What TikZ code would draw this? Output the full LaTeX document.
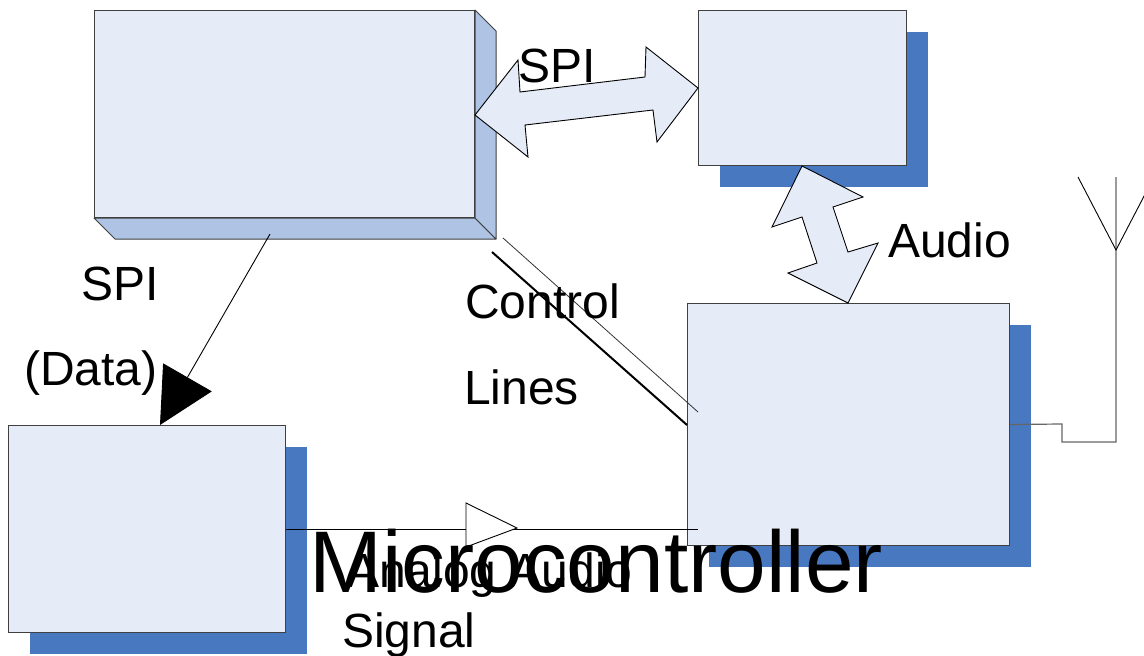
\documentclass[tikz,border=0pt]{standalone}
\usepackage{fontspec}
\setmainfont{Liberation Sans}
\usetikzlibrary{arrows.meta,shadows,calc}
\definecolor{facefill}{HTML}{E6ECF7}
\definecolor{sidefill}{HTML}{AFC4E4}
\definecolor{shadowblue}{HTML}{4878C0}
\tikzset{
  box/.style={draw=black!75, line width=1pt, fill=facefill, inner sep=0pt, anchor=north west},
  shadowbox/.style={box, general shadow={fill=shadowblue, shadow xshift=21pt, shadow yshift=-21pt}},
  sideface/.style={draw=black!75, line width=1pt, fill=sidefill, line join=round},
  blockarrow/.style={draw=black, line width=0.9pt, fill=facefill, line join=miter},
  wire/.style={draw=black, line width=0.9pt},
  graywire/.style={draw=black!60, line width=1.2pt},
  txt/.style={font=\fontsize{48}{56}\selectfont, inner sep=0pt, anchor=base west},
  bigtxt/.style={font=\fontsize{87.5}{100}\selectfont, inner sep=0pt, anchor=base west}
}
\begin{document}
\begin{tikzpicture}[x=1pt,y=-1pt]
\useasboundingbox (0,0) rectangle (1144,656);

% boxes
\node[box, minimum width=380pt, minimum height=207pt] (mcu) at (94,10) {};
\draw[sideface] (mcu.south west) -- ++(21,21) -- ($(mcu.south east)+(21,21)$) -- (mcu.south east) -- cycle;
\draw[sideface] (mcu.north east) -- ++(21,21) -- ($(mcu.south east)+(21,21)$) -- (mcu.south east) -- cycle;

\node[shadowbox, minimum width=208pt, minimum height=155pt] (codec) at (698,10) {};
\node[shadowbox, minimum width=322pt, minimum height=242pt] (radio) at (687,303) {};
\node[shadowbox, minimum width=277pt, minimum height=207pt] (dac) at (8,425) {};

% block arrows
\draw[blockarrow] (475,115) -- (518,60) -- (520,92) -- (645,77) -- (646,47) -- (698,88)
  -- (657,142) -- (653,110) -- (525,125) -- (528,157) -- cycle;
\draw[blockarrow] (802,166) -- (863,197) -- (833,207) -- (848,252) -- (878,243) -- (848,303)
  -- (788,273) -- (817,263) -- (802,217) -- (772,227) -- cycle;

% SPI (data) connector
\coordinate (spistart) at (270,234);
\draw[wire, -{Triangle[length=55pt,width=56pt]}] (spistart) -- ($(dac.north west)+(152,0)$);

% control lines
\coordinate (ctlA) at (503,238);
\coordinate (ctlB) at (698,412);
\coordinate (ctlC) at (492,252);
\draw[wire, line width=0.8pt, draw=black!80] (ctlA) -- (ctlB);
\draw[wire, line width=2pt] (ctlC) -- (radio.west |- 0,425);

% analog audio line
\coordinate (audend) at ($(radio.south west)+(11,-17)$);
\draw[wire] (dac.east) -- (audend);
\draw[wire, fill=white] (466,503) -- (517,528) -- (466,547) -- cycle;

% antenna
\coordinate (antbase) at (1116,250);
\draw[graywire] (radio.east) -- (1062,424) -- (1062,442) -- (1116,442) -- (antbase) -- (1116,177);
\draw[wire] (1078,177) -- (antbase) -- (1154,177);

% labels
\node[txt] (lspi1) at (518,82) {SPI};
\node[txt] (laudio) at (888,257) {Audio};
\node[txt] (lspi2) at (81,300) {SPI};
\node[txt] (ldata) at (24,385) {(Data)};
\node[txt] (lctl) at (465,318) {Control};
\node[txt] (llines) at (464,404) {Lines};
\node[txt] (lanalog) at (347,587) {Analog Audio};
\node[txt] (lsignal) at (342,647) {Signal};
\node[bigtxt] (lmcu) at (309,592) {Microcontroller};
\end{tikzpicture}
\end{document}
